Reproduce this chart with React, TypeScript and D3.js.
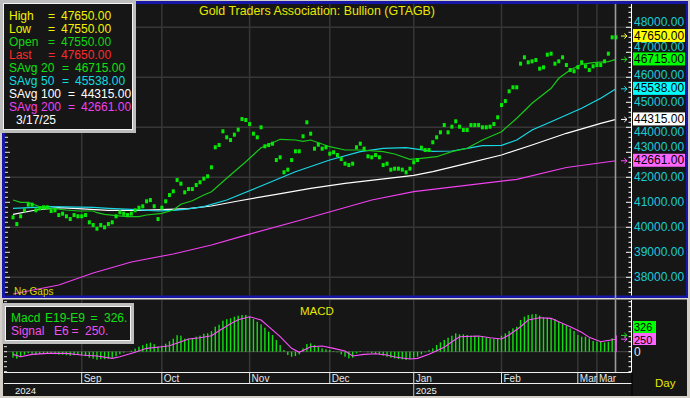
import React from "react";
import * as d3 from "d3";

const fmt = d3.timeFormat("%Y-%m-%d");
// one bar per weekday, 2024-08-07 .. 2025-03-17
const days = d3.timeDay
  .range(new Date(2024, 7, 7), new Date(2025, 2, 18))
  .filter((d) => d.getDay() !== 0 && d.getDay() !== 6)
  .map((d) => fmt(d));

// daily bars (mid of high/low)
const closes = [
  40400, 40130, 40440, 40680, 40905, 40905, 40680, 40760, 40800, 40800,
  40650, 40680, 40490, 40545, 40440, 40330, 40490, 40440, 40440, 40490,
  40200, 40090, 39945, 40090, 40000, 40130, 40200, 40440, 40600, 40545,
  40490, 40545, 40680, 40785, 40840, 41040, 41090, 40840, 40330, 40785,
  41040, 41290, 41440, 41890, 41745, 41400, 41530, 41530, 41690, 41800,
  41945, 42040, 42400, 43200, 43290, 43840, 43600, 43490, 43705, 43905,
  44330, 44290, 44130, 43745, 43600, 44000, 43240, 43290, 43345, 42690,
  42800, 42200, 42305, 42690, 43040, 43040, 43640, 44200, 43745, 43145,
  43305, 43145, 43200, 42945, 43000, 42890, 42730, 42545, 42490, 42545,
  43200, 43345, 43145, 42840, 42800, 42890, 42800, 42490, 42545, 42305,
  42345, 42345, 42305, 42200, 42345, 42600, 42690, 43185, 43090, 43090,
  43400, 43600, 43800, 44090, 43800, 44025, 44240, 44025, 43890, 43890,
  44090, 44090, 44090, 44000, 44000, 44025, 44130, 44400, 44890, 45050,
  45440, 45600, 45600, 46545, 46800, 46600, 46640, 46690, 46345, 46400,
  46905, 46945, 46545, 46640, 46800, 46490, 46290, 46240, 46400, 46600,
  46440, 46290, 46440, 46490, 46490, 46640, 46945, 47600, 47600,
];

// moving averages: [bar, value]
const savg20 = [
  [0, 41092], [2, 41000], [4, 41000], [7, 40824], [10, 40760], [14, 40692],
  [17, 40652], [21, 40652], [22, 40584], [24, 40520], [27, 40464], [30, 40424],
  [33, 40424], [35, 40492], [39, 40560], [42, 40692], [44, 40920], [47, 41064],
  [50, 41292], [52, 41424], [56, 41960], [61, 42624], [65, 43184], [68, 43384],
  [70, 43520], [74, 43492], [76, 43440], [78, 43492], [83, 43224], [87, 43092],
  [91, 43092], [97, 43024], [100, 42932], [104, 42720], [107, 42760], [111, 42824],
  [115, 43024], [119, 43160], [123, 43492], [128, 43824], [132, 44360], [136, 44960],
  [141, 45560], [143, 45960], [146, 46292], [149, 46520], [152, 46584], [156, 46624],
  [158, 46715],
];
const savg50 = [
  [0, 40760], [10, 40824], [21, 40800], [25, 40760], [31, 40720], [38, 40652],
  [42, 40680], [45, 40720], [50, 40824], [56, 41092], [65, 41652], [74, 42224],
  [83, 42692], [91, 43024], [97, 43160], [103, 43184], [110, 43040], [115, 43052],
  [119, 43160], [123, 43264], [128, 43280], [132, 43492], [136, 43892], [141, 44224],
  [145, 44492], [149, 44760], [154, 45160], [158, 45538],
];
const savg100 = [
  [0, 40520], [6, 40692], [12, 40784], [17, 40744], [25, 40680], [33, 40680],
  [39, 40704], [46, 40744], [52, 40852], [59, 41052], [69, 41320], [78, 41560],
  [87, 41760], [96, 41920], [105, 42080], [110, 42224], [119, 42560], [128, 42892],
  [136, 43292], [145, 43760], [154, 44160], [158, 44315],
];
const savg200 = [
  [0, 37332], [12, 37692], [21, 38172], [31, 38612], [42, 38932], [52, 39292],
  [59, 39600], [75, 40272], [94, 41092], [105, 41424], [132, 41920], [145, 42392],
  [158, 42661],
];

// MACD E19-E9 per bar
const macd = [
  -120, -140, -110, -60, -30, -40, -60, -40, -30, -30,
  -40, -50, -60, -60, -70, -80, -70, -60, -70, -90,
  -120, -140, -160, -150, -150, -140, -120, -90, -50, -20,
  0, 20, 60, 100, 130, 160, 180, 150, 100, 120,
  160, 210, 260, 330, 320, 260, 260, 270, 300, 320,
  360, 370, 410, 500, 540, 620, 650, 667, 700, 720,
  734, 734, 700, 654, 600, 547, 480, 400, 334, 234,
  134, 34, -67, -100, -87, -53, 67, 154, 167, 134,
  100, 67, 47, 34, 13, -13, -53, -100, -133, -120,
  -33, 13, 0, -13, -27, -40, -53, -80, -100, -120,
  -133, -147, -153, -166, -147, -120, -100, -53, -13, 34,
  67, 134, 187, 234, 280, 320, 367, 347, 347, 334,
  320, 320, 307, 300, 280, 267, 254, 267, 320, 367,
  414, 467, 500, 634, 700, 734, 747, 754, 720, 687,
  680, 667, 654, 600, 554, 520, 467, 414, 334, 300,
  300, 267, 214, 200, 200, 187, 200, 267, 326,
];
// Signal E6: [bar, value]
const signal = [
  [0, -53], [2, -100], [5, -53], [9, -33], [14, -33], [18, -67], [22, -87],
  [26, -133], [28, -100], [32, -13], [35, 67], [39, 100], [41, 120], [44, 200],
  [46, 254], [49, 280], [52, 320], [54, 420], [57, 560], [59, 640], [62, 700],
  [65, 634], [67, 500], [70, 300], [73, 67], [75, -13], [78, 100], [81, 114],
  [84, 67], [87, 13], [89, -87], [92, -53], [95, -40], [98, -67], [100, -107],
  [104, -147], [106, -133], [109, -53], [113, 90], [115, 200], [117, 300],
  [122, 314], [125, 280], [128, 254], [130, 334], [133, 500], [135, 634],
  [138, 680], [141, 667], [143, 600], [146, 500], [149, 387], [151, 287],
  [154, 200], [155, 214], [158, 250],
];

const monthTicks = [
  ["2024-09-02", "Sep"], ["2024-10-01", "Oct"], ["2024-11-01", "Nov"],
  ["2024-12-02", "Dec"], ["2025-01-01", "Jan"], ["2025-02-03", "Feb"],
  ["2025-03-03", "Mar"], ["2025-03-10", "Mar"],
];
const yearTicks = [["2024-08-07", "2024"], ["2025-01-01", "2025"]];

const legendRows = [
  ["High", "", "47650.00", "#f2f200"],
  ["Low", "", "47550.00", "#f2f200"],
  ["Open", "", "47550.00", "#10d810"],
  ["Last", "", "47650.00", "#ff2a2a"],
  ["SAvg", "20", "46715.00", "#10e010"],
  ["SAvg", "50", "45538.00", "#10dde0"],
  ["SAvg", "100", "44315.00", "#ffffff"],
  ["SAvg", "200", "42661.00", "#f040f0"],
];

const priceTags = [
  [47650, "#ffff00", "#ffff40"],
  [46715, "#00ff00", "#20e020"],
  [45538, "#00ffff", "#20e0e8"],
  [44315, "#ffffff", "#ffffff"],
  [42661, "#ff66ff", "#ff50ff"],
];

const FONT = "'Liberation Sans', Arial, sans-serif";
const BG = "#161616";
const GRID = "#363636";
const BLUE = "#1818a8";
const CHROME = "#d4d0c8";

export default function App() {
  const x = d3.scalePoint<string>().domain(days).range([13, 616]);
  const y = d3.scaleLinear().domain([38000, 48000]).range([277.3, 27.3]);
  const ym = d3.scaleLinear().domain([0, 1000]).range([351.7, 301.7]);
  const xi = (i: number) => x(days[i]) as number;

  const maLine = d3
    .line<number[]>()
    .x((d) => xi(d[0]))
    .y((d) => y(d[1]));
  const sigLine = d3
    .line<number[]>()
    .x((d) => xi(d[0]))
    .y((d) => ym(d[1]));

  const gridPrices = d3.range(38000, 48001, 2000);
  const labelPrices = d3.range(38000, 48001, 1000);
  const tickPrices = d3.range(37400, 48801, 200);
  const macdTicks = d3.range(-400, 1001, 100);
  const lastX = 615.5;

  // tag boxes (centre y); axis labels slide off them, or sit midway if squeezed
  const tagY = priceTags.map((t) => y(t[0] as number) - 0.5);
  const GAP = 13.5;
  const labelY = (p: number) => {
    const c = y(p);
    const hits = tagY.filter((t) => Math.abs(c - t) < GAP);
    if (hits.length === 0) return c;
    const above = tagY.filter((t) => t < c).sort((a, b) => b - a)[0];
    const below = tagY.filter((t) => t >= c).sort((a, b) => a - b)[0];
    if (above !== undefined && below !== undefined && below - above < 2 * GAP)
      return (above + below) / 2;
    const t = hits[0];
    return c < t ? t - GAP : t + GAP;
  };

  return (
    <svg
      width={690}
      height={398}
      style={{ position: "absolute", left: 0, top: 0, fontFamily: FONT }}
    >
      <defs>
        <clipPath id="main">
          <rect x={5} y={4} width={626.5} height={291.5} />
        </clipPath>
        <clipPath id="sub">
          <rect x={4} y={300} width={627.5} height={72} />
        </clipPath>
        <clipPath id="dates">
          <rect x={4} y={373} width={628} height={10} />
        </clipPath>
      </defs>

      <rect width={690} height={398} fill={CHROME} />

      {/* main panel frame */}
      <rect x={2} y={1} width={686} height={297} fill={BLUE} />
      <rect x={5} y={4} width={681} height={291.5} fill={BG} />

      {/* lower panels */}
      <rect x={3} y={298.5} width={685} height={1} fill="#e0e0e0" />
      <rect x={3} y={299.5} width={684} height={96.5} fill={BG} />

      {/* price grid */}
      {gridPrices.map((p) => (
        <line key={p} x1={5} x2={631} y1={y(p)} y2={y(p)} stroke={GRID} strokeWidth={1.5} />
      ))}
      {monthTicks.map(([d]) => (
        <line key={d} x1={x(d)} x2={x(d)} y1={4} y2={295.5} stroke={GRID} strokeWidth={1.5} />
      ))}

      <g clipPath="url(#main)">
        <path d={maLine(savg200) ?? ""} fill="none" stroke="#f040f0" strokeWidth={1.2} />
        <path d={maLine(savg100) ?? ""} fill="none" stroke="#ffffff" strokeWidth={1.2} />
        <path d={maLine(savg50) ?? ""} fill="none" stroke="#18d8e4" strokeWidth={1.2} />
        <path d={maLine(savg20) ?? ""} fill="none" stroke="#18c818" strokeWidth={1.2} />
        {closes.map((c, i) => (
          <rect key={i} x={xi(i) - 1.5} y={y(c) - 2} width={3} height={4} fill="#06e806" />
        ))}
      </g>

      {/* left ticks */}
      {tickPrices.map((p) => (
        <line key={p} x1={5} x2={p % 1000 === 0 ? 10 : 8} y1={y(p)} y2={y(p)} stroke="#e8e8e8" />
      ))}

      {/* right price axis */}
      <line x1={631.5} x2={631.5} y1={4} y2={295.5} stroke="#ffffff" />
      {tickPrices.map((p) => (
        <line key={p} x1={p % 1000 === 0 ? 626 : 628.5} x2={631.5} y1={y(p)} y2={y(p)} stroke="#ffffff" />
      ))}
      {labelPrices.map((p) => (
        <text key={p} x={634} y={labelY(p) + 4} fontSize={12} fill="#18ccd8">
          {d3.format(".2f")(p)}
        </text>
      ))}
      {priceTags.map(([v, bg, arrow], i) => {
        const yy = y(v as number);
        return (
          <g key={v as number}>
            <path
              d={`M621,${yy}H627M624.3,${yy - 2.5}L627,${yy}L624.3,${yy + 2.5}`}
              stroke={arrow as string}
              fill="none"
            />
            <rect x={633} y={tagY[i] - 6.5} width={52} height={13} fill={bg as string} />
            <text x={634} y={tagY[i] + 4} fontSize={12} fill="#000">
              {d3.format(".2f")(v as number)}
            </text>
          </g>
        );
      })}

      <text x={199} y={15} fontSize={12.4} fill="#e8e800">
        Gold Traders Association: Bullion (GTAGB)
      </text>
      <text x={14} y={295} fontSize={10} fill="#d8d800">
        No Gaps
      </text>

      {/* MACD panel */}
      {monthTicks.map(([d]) => (
        <line key={d} x1={x(d)} x2={x(d)} y1={300} y2={372} stroke={GRID} strokeWidth={1.5} />
      ))}
      <line x1={4} x2={631} y1={ym(0)} y2={ym(0)} stroke="#4a4a4a" />
      <g clipPath="url(#sub)">
        {macd.map((v, i) => (
          <rect
            key={i}
            x={xi(i) - (i === macd.length - 1 ? 1 : 0.7)}
            y={Math.min(ym(v), ym(0))}
            width={i === macd.length - 1 ? 2 : 1.4}
            height={Math.abs(ym(v) - ym(0))}
            fill={i === macd.length - 1 ? "#e040e0" : "#10e010"}
          />
        ))}
        <path d={sigLine(signal) ?? ""} fill="none" stroke="#ff50ff" strokeWidth={1.1} />
      </g>
      {macdTicks.map((t) => (
        <line key={t} x1={4} x2={7} y1={ym(t)} y2={ym(t)} stroke="#e8e8e8" />
      ))}
      <line x1={631.5} x2={631.5} y1={300} y2={372} stroke="#ffffff" />
      {macdTicks.map((t) => (
        <line key={t} x1={628.5} x2={631.5} y1={ym(t)} y2={ym(t)} stroke="#ffffff" />
      ))}
      <text x={300} y={314.5} fontSize={11.5} fill="#e8e800">
        MACD
      </text>

      {/* last bar cursor */}
      <line x1={lastX} x2={lastX} y1={4} y2={372} stroke="#9a9a9a" strokeWidth={1.6} />

      {/* MACD tags */}
      <path d={`M621,${ym(326)}H627M624.3,${ym(326) - 2.5}L627,${ym(326)}L624.3,${ym(326) + 2.5}`} stroke="#20e020" fill="none" />
      <path d={`M621,${ym(250)}H627M624.3,${ym(250) - 2.5}L627,${ym(250)}L624.3,${ym(250) + 2.5}`} stroke="#ff50ff" fill="none" />
      <rect x={633} y={321} width={23} height={12} fill="#00ff00" />
      <text x={634} y={330.8} fontSize={11} fill="#000">326</text>
      <rect x={633} y={333} width={23} height={12} fill="#ff66ff" />
      <text x={634} y={343.6} fontSize={11} fill="#000">250</text>
      <text x={634} y={ym(0) + 4.5} fontSize={12} fill="#dce6f0">0</text>

      {/* date axis */}
      <line x1={4} x2={632} y1={372.5} y2={372.5} stroke="#f0f0f0" />
      <line x1={4} x2={632} y1={383.5} y2={383.5} stroke="#f0f0f0" />
      {monthTicks.map(([d, m]) => (
        <g key={d}>
          <line x1={x(d)} x2={x(d)} y1={372.5} y2={383.5} stroke="#e0e0e0" />
          <text x={(x(d) as number) + 2} y={382} fontSize={10} fill="#e4e4e4" clipPath="url(#dates)">
            {m}
          </text>
        </g>
      ))}
      {yearTicks.map(([d, yr], i) => (
        <g key={d}>
          {i > 0 && <line x1={x(d)} x2={x(d)} y1={383.5} y2={396} stroke="#bdbdbd" />}
          <text x={(x(d) as number) + 2} y={394.3} fontSize={9.5} fill="#f0f0f0">
            {yr}
          </text>
        </g>
      ))}
      <line x1={632} x2={632} y1={372} y2={396} stroke="#000" />
      <text x={655} y={387} fontSize={11.5} fill="#e8e800">
        Day
      </text>
      <rect x={0} y={396} width={690} height={2} fill={CHROME} />

      {/* price legend */}
      <rect x={1.5} y={1.5} width={133} height={130} fill={BG} stroke="#bdbdbd" strokeWidth={3} />
      <rect x={3.5} y={3.5} width={129} height={126} fill="none" stroke="#f4f4f4" strokeWidth={1} />
      {legendRows.map(([lab, per, val, col], i) => {
        const by = 20 + i * 13;
        const wide = per.length === 3;
        return (
          <g key={i} fill={col} fontSize={12}>
            <text x={9} y={by}>{lab}</text>
            {per && <text x={41} y={by}>{per}</text>}
            <text x={per ? (wide ? 68 : 62) : 48} y={by}>=</text>
            <text x={per ? (wide ? 81 : 75) : 61} y={by}>{val}</text>
          </g>
        );
      })}
      <text x={16} y={124} fontSize={12} fill="#ffffff">3/17/25</text>

      {/* MACD legend */}
      <rect x={3.5} y={304.5} width={129} height={38} fill={BG} stroke="#bdbdbd" strokeWidth={3} />
      <rect x={5.5} y={306.5} width={125} height={34} fill="none" stroke="#f4f4f4" strokeWidth={1} />
      <g fontSize={12} fill="#10e010">
        <text x={11} y={322}>Macd</text>
        <text x={45} y={322}>E19-E9</text>
        <text x={90.5} y={322}>=</text>
        <text x={104} y={322}>326.</text>
      </g>
      <g fontSize={12} fill="#f050f0">
        <text x={11} y={334.5}>Signal</text>
        <text x={54} y={334.5}>E6</text>
        <text x={71.5} y={334.5}>=</text>
        <text x={85} y={334.5}>250.</text>
      </g>
    </svg>
  );
}
